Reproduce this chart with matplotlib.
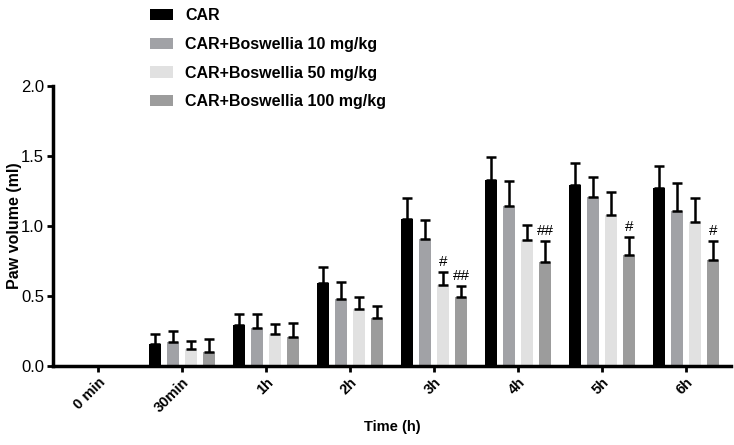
import matplotlib.pyplot as plt
import numpy as np

plt.rcParams['font.family'] = ['Liberation Sans', 'DejaVu Sans']

# data
times = ['0 min', '30min', '1h', '2h', '3h', '4h', '5h', '6h']
groups = ['CAR', 'CAR+Boswellia 10 mg/kg', 'CAR+Boswellia 50 mg/kg', 'CAR+Boswellia 100 mg/kg']
car = [0.0, 0.16, 0.29, 0.59, 1.05, 1.33, 1.29, 1.27]
car_err = [0.0, 0.07, 0.08, 0.12, 0.15, 0.16, 0.16, 0.16]
bos10 = [0.0, 0.17, 0.27, 0.48, 0.91, 1.14, 1.21, 1.11]
bos10_err = [0.0, 0.08, 0.10, 0.12, 0.13, 0.18, 0.14, 0.20]
bos50 = [0.0, 0.12, 0.23, 0.41, 0.58, 0.90, 1.08, 1.03]
bos50_err = [0.0, 0.06, 0.07, 0.08, 0.09, 0.11, 0.16, 0.17]
bos100 = [0.0, 0.10, 0.21, 0.34, 0.49, 0.74, 0.79, 0.76]
bos100_err = [0.0, 0.09, 0.10, 0.09, 0.08, 0.15, 0.13, 0.13]
marks50 = ['', '', '', '', '#', '', '', '']
marks100 = ['', '', '', '', '##', '##', '#', '#']

colors = ['#000000', '#a1a2a6', '#e1e1e1', '#9c9c9c']
series = [car, bos10, bos50, bos100]
errs = [car_err, bos10_err, bos50_err, bos100_err]
marks = [None, None, marks50, marks100]

fig = plt.figure(figsize=(7.34, 4.45), dpi=100)
ax = fig.add_axes([0.0722, 0.1775, 0.924, 0.629])

x = np.arange(len(times))
width = 0.14
step = 0.214
handles = []
for i, (vals, err, col) in enumerate(zip(series, errs, colors)):
    pos = x + (i - 1.5) * step
    b = ax.bar(pos, vals, width, color=col, label=groups[i], zorder=2)
    handles.append(b)
    ax.errorbar(pos, vals, yerr=[np.zeros(len(err)), err], fmt='none',
                ecolor='black', elinewidth=1.8, capsize=3.5, capthick=1.8, zorder=3)
    if marks[i] is not None:
        for p, v, e, m in zip(pos, vals, err, marks[i]):
            if m:
                ax.text(p, v + e + 0.025, m, ha='center', va='bottom', fontsize=11)

ax.set_xlim(-0.54, 7.54)
ax.set_ylim(0, 2.0)
ax.set_yticks([0.0, 0.5, 1.0, 1.5, 2.0])
ax.set_yticklabels(['0.0', '0.5', '1.0', '1.5', '2.0'], fontsize=12)
ax.set_xticks(x)
ax.set_xticklabels(times, rotation=45, ha='right', rotation_mode='anchor',
                   fontsize=10.5, fontweight='bold')
ax.set_xlabel('Time (h)', fontsize=10.5, fontweight='bold', labelpad=4)
ax.set_ylabel('Paw volume (ml)', fontsize=11.5, fontweight='bold')
ax.yaxis.set_label_coords(-0.046, 0.5)

for s in ['top', 'right']:
    ax.spines[s].set_visible(False)
for s in ['left', 'bottom']:
    ax.spines[s].set_linewidth(2.5)
ax.tick_params(axis='both', width=2, length=4.5, direction='out', pad=2)

fig.legend(handles=handles, labels=groups, loc='upper left',
           bbox_to_anchor=(0.1935, 0.999), frameon=False, borderpad=0,
           prop={'weight': 'bold', 'size': 11.5}, handlelength=1.45,
           handleheight=0.7, labelspacing=0.85, handletextpad=0.75)

fig.savefig('out.png', dpi=100)
